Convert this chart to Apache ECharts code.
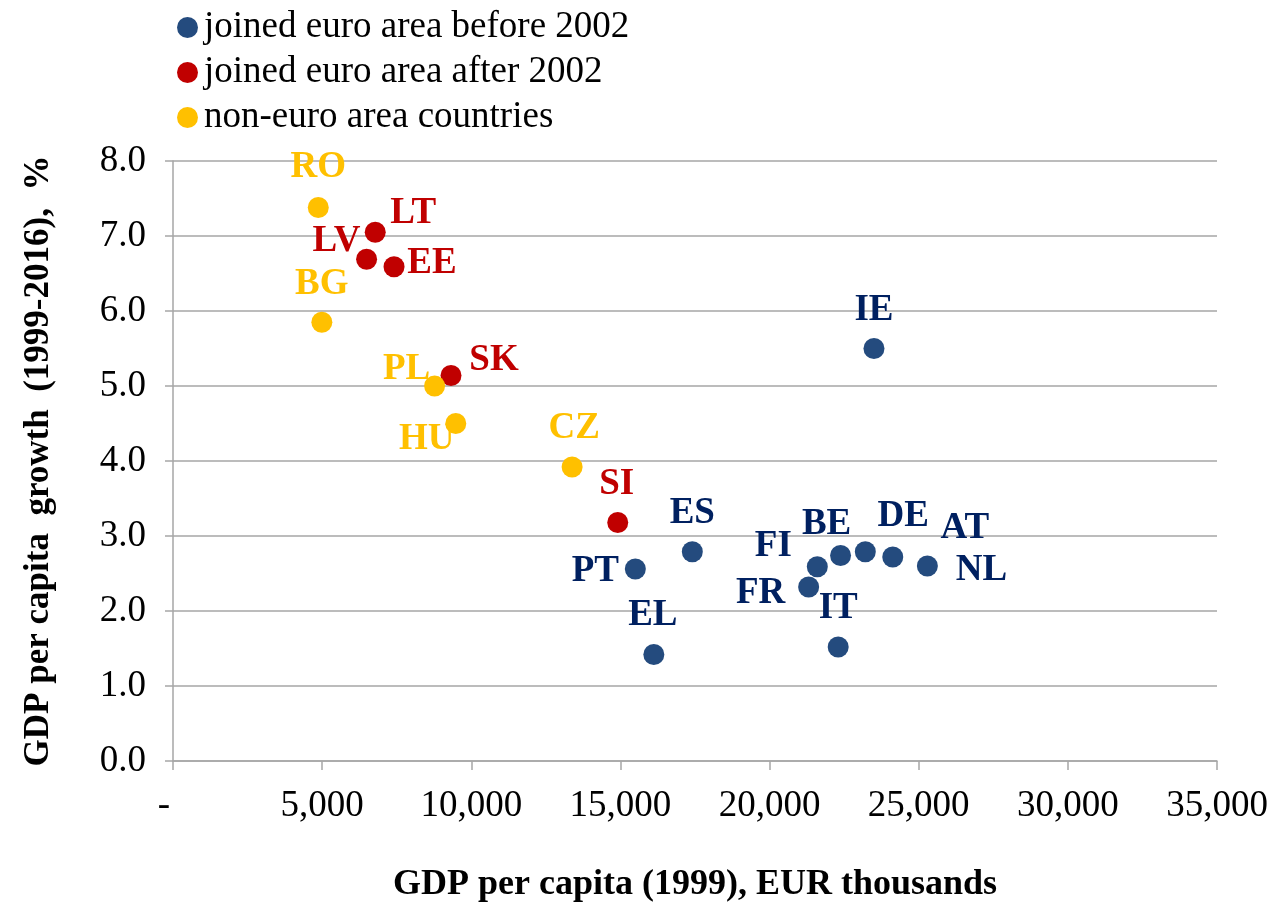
<!DOCTYPE html>
<html>
<head>
<meta charset="utf-8">
<title>GDP per capita growth</title>
<script src="https://cdn.jsdelivr.net/npm/echarts@6/dist/echarts.min.js"></script>
<style>
    html, body { margin: 0; padding: 0; background: #fff; }
    #chart { width: 1273px; height: 905px; }
</style>
</head>
<body>
<div id="chart"></div>
<script>
"use strict";

// joined euro area before 2002
var beforeCodes = ["IE", "ES", "PT", "EL", "FI", "BE", "DE", "AT", "NL", "FR", "IT"];
var beforeGdp = [23500, 17410, 15500, 16120, 21600, 22380, 23210, 24130, 25290, 21310, 22300];
var beforeGrowth = [5.50, 2.79, 2.56, 1.42, 2.59, 2.74, 2.79, 2.72, 2.60, 2.32, 1.52];

// joined euro area after 2002
var afterCodes = ["LT", "LV", "EE", "SK", "SI"];
var afterGdp = [6780, 6490, 7410, 9320, 14910];
var afterGrowth = [7.05, 6.69, 6.59, 5.14, 3.18];

// non-euro area countries
var nonCodes = ["RO", "BG", "PL", "HU", "CZ"];
var nonGdp = [4870, 4990, 8770, 9480, 13380];
var nonGrowth = [7.38, 5.85, 5.00, 4.50, 3.92];

var seriesNames = ["joined euro area before 2002", "joined euro area after 2002", "non-euro area countries"];
var yTicks = [0, 1, 2, 3, 4, 5, 6, 7, 8];

// where each country label sits relative to its dot (pixels)
var labelShift = {
    RO: [0, -40], LT: [38, -19], LV: [-30, -18], EE: [38, -3], BG: [0, -38],
    SK: [43, -15], PL: [-28, -17], HU: [-29, 16], CZ: [2, -39], SI: [-1, -38],
    ES: [0, -38], PT: [-40, 2], EL: [-1, -39], IE: [0, -38], FI: [-44, -20],
    BE: [-14, -31], DE: [38, -35], AT: [72, -29], NL: [54, 4], FR: [-48, 6], IT: [0, -39]
};

var serif = "'Liberation Serif', 'Times New Roman', serif";

function makePoints(codes, xs, ys) {
    return codes.map(function (c, i) {
        return {
            name: c,
            value: [xs[i], ys[i]],
            label: { offset: labelShift[c] }
        };
    });
}

function makeSeries(name, points, dotColor, textColor) {
    return {
        name: name,
        type: "scatter",
        symbol: "circle",
        symbolSize: 21,
        itemStyle: { color: dotColor, opacity: 1 },
        label: {
            show: true,
            position: "inside",
            formatter: "{b}",
            color: textColor,
            fontFamily: serif,
            fontWeight: "bold",
            fontSize: 37
        },
        emphasis: { disabled: true },
        data: points
    };
}

var myChart = echarts.init(document.getElementById("chart"));
var option = {
    backgroundColor: "#ffffff",
    animation: false,
    legend: {
        orient: "vertical",
        left: 172,
        top: 4,
        itemWidth: 21,
        itemHeight: 21,
        itemGap: 8,
        icon: "circle",
        textStyle: { fontFamily: serif, fontSize: 37, color: "#000", padding: [0, 0, 0, 1] },
        data: seriesNames
    },
    grid: { left: 173, right: 56, top: 161, bottom: 144, outerBoundsMode: "none", containLabel: false },
    xAxis: {
        type: "value",
        min: 0,
        max: 35000,
        interval: 5000,
        name: "GDP per capita (1999), EUR thousands",
        nameLocation: "middle",
        nameGap: 106,
        nameTextStyle: { fontFamily: serif, fontWeight: "bold", fontSize: 36, color: "#000" },
        axisLine: { show: true, lineStyle: { color: "#a6a6a6", width: 1.5 } },
        axisTick: { show: true, length: 9, lineStyle: { color: "#a6a6a6", width: 1.5 } },
        axisLabel: {
            margin: 27,
            fontFamily: serif,
            fontSize: 37,
            color: "#000",
            formatter: function (v) {
                return v === 0 ? "{dash|-}" : v.toLocaleString("en-US");
            },
            rich: {
                dash: { fontFamily: serif, fontSize: 37, color: "#000", padding: [0, 18, 0, 0] }
            }
        },
        splitLine: { show: false }
    },
    yAxis: {
        type: "value",
        min: yTicks[0],
        max: yTicks[yTicks.length - 1],
        interval: 1,
        name: "GDP per capita  growth  (1999-2016),  %",
        nameLocation: "middle",
        nameGap: 117,
        nameRotate: 90,
        nameTextStyle: { fontFamily: serif, fontWeight: "bold", fontSize: 35, color: "#000" },
        axisLine: { show: true, lineStyle: { color: "#a6a6a6", width: 1.5 } },
        axisTick: { show: true, length: 8, lineStyle: { color: "#a6a6a6", width: 1.5 } },
        axisLabel: {
            margin: 27,
            fontFamily: serif,
            fontSize: 37,
            color: "#000",
            formatter: function (v) { return v.toFixed(1); }
        },
        splitLine: { show: true, lineStyle: { color: "#a6a6a6", width: 1.5 } }
    },
    series: [
        makeSeries(seriesNames[0], makePoints(beforeCodes, beforeGdp, beforeGrowth), "#244b7e", "#002060"),
        makeSeries(seriesNames[1], makePoints(afterCodes, afterGdp, afterGrowth), "#c00000", "#c00000"),
        makeSeries(seriesNames[2], makePoints(nonCodes, nonGdp, nonGrowth), "#ffc000", "#ffc000")
    ]
};
myChart.setOption(option);
</script>
</body>
</html>
